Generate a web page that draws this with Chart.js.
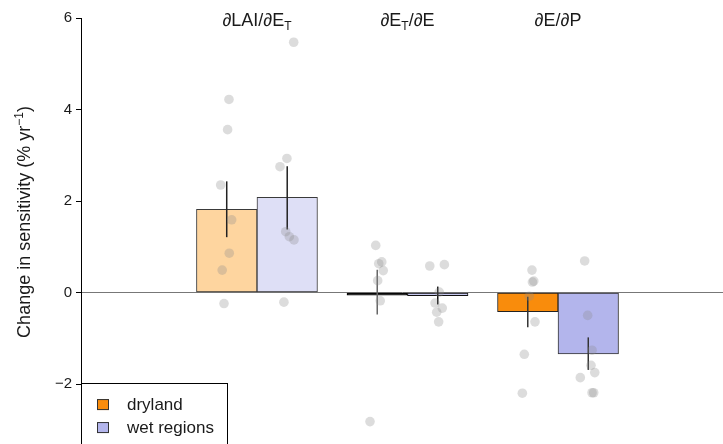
<!DOCTYPE html>
<html>
<head>
<meta charset="utf-8">
<script src="https://cdn.jsdelivr.net/npm/chart.js@4.4.1/dist/chart.umd.min.js"></script>
<style>
  html, body { margin: 0; padding: 0; background: #fff; }
  #caja { width: 723px; height: 444px; }
</style>
</head>
<body>
<div id="caja"><canvas id="grafico"></canvas></div>
<script>
// ───────────────────────── datos
const categories  = ['∂LAI/∂E_T', '∂E_T/∂E', '∂E/∂P'];
const seriesNames = ['dryland', 'wet regions'];
const yTicks      = [-2, 0, 2, 4, 6];
const yTitle      = 'Change in sensitivity (% yr^−1)';

const dryMean  = [1.82, -0.06, -0.42];
const wetMean  = [2.08, -0.07, -1.34];
const dryErrLo = [1.21, -0.48, -0.76];
const dryErrHi = [2.43,  0.50, -0.09];
const wetErrLo = [1.38, -0.26, -1.69];
const wetErrHi = [2.76,  0.13, -0.98];

// puntos individuales (x = grupo + jitter)
const dryPtsX = [0.814, 0.805, 0.759, 0.832, 0.816, 0.769, 0.781,
                 1.789, 1.829, 1.809, 1.839, 1.802, 1.819, 1.751,
                 2.827, 2.839, 2.830, 2.809, 2.847, 2.776, 2.763];
const dryPtsY = [4.22, 3.56, 2.35, 1.59, 0.86, 0.49, -0.24,
                 1.03, 0.67, 0.63, 0.48, 0.26, -0.18, -2.82,
                 0.49, 0.25, 0.23, -0.08, -0.64, -1.35, -2.20];
const wetPtsX = [1.244, 1.199, 1.153, 1.191, 1.215, 1.246, 1.179,
                 2.148, 2.245, 2.211, 2.183, 2.231, 2.194, 2.207,
                 3.177, 3.197, 3.226, 3.219, 3.244, 3.148, 3.226, 3.237];
const wetPtsY = [5.47, 2.93, 2.75, 1.33, 1.22, 1.15, -0.21,
                 0.58, 0.61, 0.01, -0.23, -0.34, -0.43, -0.64,
                 0.69, -0.50, -1.26, -1.59, -1.75, -1.86, -2.19, -2.19];

// ───────────────────────── estilo
const FONT = "'Liberation Sans', Arial, Helvetica, sans-serif";
const TXT  = '#1a1a1a';
const dryFill   = ['#FED59F', '#1a1a1a', '#F98C0C'];
const wetFill   = ['#DEDFF6', '#C9CBF2', '#B3B5EC'];
const dryBorder = ['#3a3a3a', '#000', '#222'];
const wetBorder = ['#3a3a3a', '#111', '#333'];
const dryErrCol = ['#222', '#666', '#333'];
const wetErrCol = ['#222', '#111', '#333'];
const legendCol = ['#F98C0C', '#B3B5EC'];

const xPos = categories.map((c, i) => i + 1);

// texto con sub/superíndice: "_X" subíndice de un carácter, "^..." superíndice hasta ")"
function partes (txt) {
  const segs = [];
  const re = /_(.)|\^([^)]*)|([^_^]+)/g;
  let m;
  while ((m = re.exec(txt))) {
    if (m[1]) segs.push({ t: m[1], dy: 4 });
    else if (m[2]) segs.push({ t: m[2], dy: -7 });
    else segs.push({ t: m[3], dy: 0 });
  }
  return segs;
}

function textoRico (ctx, txt, cx, base, size) {
  const segs = partes(txt);
  const fMain = `${size}px ${FONT}`, fSmall = `${Math.round(size * 0.64)}px ${FONT}`;
  let w = 0;
  segs.forEach(s => { ctx.font = s.dy ? fSmall : fMain; s.w = ctx.measureText(s.t).width; w += s.w; });
  let px = cx - w / 2;
  ctx.textAlign = 'left';
  ctx.textBaseline = 'alphabetic';
  segs.forEach(s => {
    ctx.font = s.dy ? fSmall : fMain;
    ctx.fillText(s.t, px, base + s.dy);
    px += s.w;
  });
}

// ───────────────────────── plugin: barras de error, etiquetas y leyenda
const extras = {
  id: 'extras',
  afterDatasetDraw (chart, args) {
    if (args.index !== 0) return; // la última barra dibujada
    const { ctx, scales: { x, y } } = chart;
    const half = chart.getDatasetMeta(0).data[0].width / 2;
    ctx.save();
    ctx.lineWidth = 1.5;
    xPos.forEach((g, i) => {
      const cx = x.getPixelForValue(g);
      [[cx - half, dryErrLo[i], dryErrHi[i], dryErrCol[i]],
       [cx + half, wetErrLo[i], wetErrHi[i], wetErrCol[i]]].forEach(([px, lo, hi, col]) => {
        ctx.strokeStyle = col;
        ctx.beginPath();
        ctx.moveTo(px, y.getPixelForValue(lo));
        ctx.lineTo(px, y.getPixelForValue(hi));
        ctx.stroke();
      });
    });
    ctx.restore();
  },
  afterDraw (chart) {
    const { ctx, scales: { x, y }, chartArea } = chart;
    ctx.save();
    ctx.fillStyle = TXT;

    // etiquetas de grupo
    categories.forEach((txt, i) => textoRico(ctx, txt, x.getPixelForValue(xPos[i]), 26, 18));

    // título del eje y (girado)
    ctx.save();
    ctx.translate(30, 222);
    ctx.rotate(-Math.PI / 2);
    textoRico(ctx, yTitle, 0, 0, 18);
    ctx.restore();

    // leyenda
    const lx = chartArea.left, ly = y.getPixelForValue(-2) - 1;
    ctx.strokeStyle = '#000';
    ctx.lineWidth = 1;
    ctx.strokeRect(lx + 0.5, Math.round(ly) + 0.5, 146, 80);
    ctx.font = `17px ${FONT}`;
    ctx.textAlign = 'left';
    seriesNames.forEach((name, i) => {
      const sy = ly + 16 + i * 23;
      ctx.fillStyle = legendCol[i];
      ctx.fillRect(lx + 16, sy, 12, 11);
      ctx.strokeStyle = '#333';
      ctx.strokeRect(lx + 16.5, sy + 0.5, 11, 10);
      ctx.fillStyle = TXT;
      ctx.textBaseline = 'middle';
      ctx.fillText(name, lx + 46, sy + 6);
    });
    ctx.restore();
  }
};

// ───────────────────────── gráfica
const ctx = document.getElementById('grafico').getContext('2d');
const chart = new Chart(ctx, {
  type: 'bar',
  data: {
    datasets: [
      {
        type: 'bar', label: seriesNames[0],
        data: xPos.map((g, i) => ({ x: g, y: dryMean[i] })),
        backgroundColor: dryFill, borderColor: dryBorder, borderWidth: 1, borderSkipped: false,
        barThickness: 60.5, order: 2
      },
      {
        type: 'bar', label: seriesNames[1],
        data: xPos.map((g, i) => ({ x: g, y: wetMean[i] })),
        backgroundColor: wetFill, borderColor: wetBorder, borderWidth: 1, borderSkipped: false,
        barThickness: 60.5, order: 2
      },
      {
        type: 'scatter', label: 'pts dry',
        data: dryPtsX.map((v, i) => ({ x: v, y: dryPtsY[i] })),
        pointRadius: 4.8, pointBorderWidth: 0,
        pointBackgroundColor: 'rgba(140,140,140,0.3)', order: 1
      },
      {
        type: 'scatter', label: 'pts wet',
        data: wetPtsX.map((v, i) => ({ x: v, y: wetPtsY[i] })),
        pointRadius: 4.8, pointBorderWidth: 0,
        pointBackgroundColor: 'rgba(140,140,140,0.3)', order: 0
      }
    ]
  },
  options: {
    responsive: true,
    maintainAspectRatio: false,
    devicePixelRatio: 1,
    animation: false,
    layout: { autoPadding: false, padding: { top: 18, right: 0, bottom: 0, left: 0 } },
    plugins: { legend: { display: false }, tooltip: { enabled: false } },
    scales: {
      x: {
        type: 'linear', display: false, offset: false,
        min: -0.169, max: 4.096
      },
      y: {
        min: -3.31, max: 6,
        border: { display: true, color: '#000', width: 1 },
        grid: {
          drawOnChartArea: true, drawTicks: true, tickLength: 5,
          color: c => (c.tick && c.tick.value === 0 ? '#777' : 'rgba(0,0,0,0)'),
          tickColor: '#000'
        },
        ticks: {
          stepSize: 2, includeBounds: false, padding: 4,
          color: TXT, font: { family: FONT, size: 15 },
          callback: v => (yTicks.includes(v) ? String(v).replace('-', '\u2212') : '')
        },
        afterFit (s) { s.width = 81; s.paddingTop = 0; s.paddingBottom = 0; }
      }
    }
  },
  plugins: [extras]
});
</script>
</body>
</html>
